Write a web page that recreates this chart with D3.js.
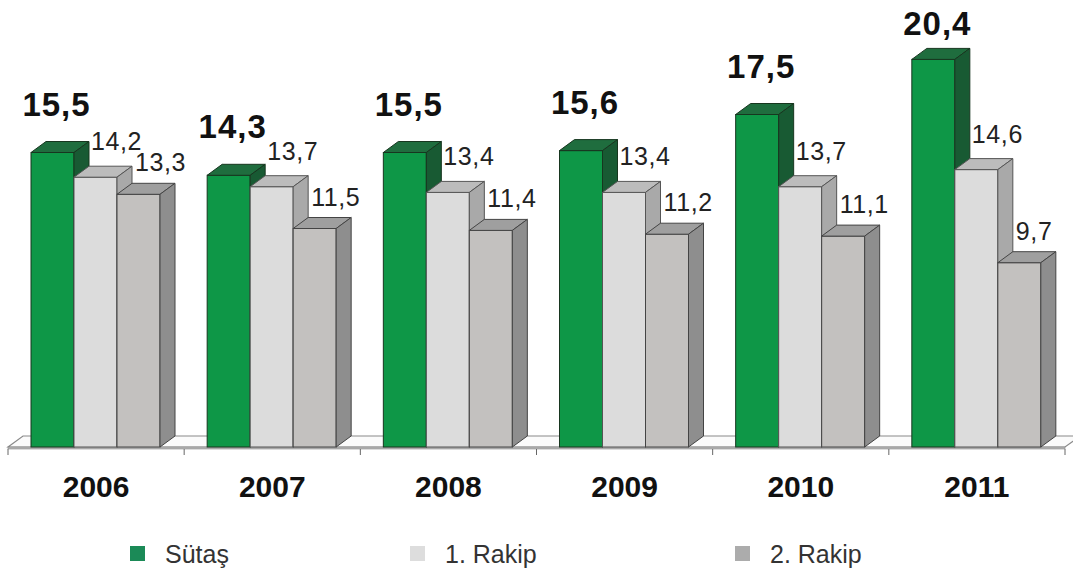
<!DOCTYPE html>
<html>
<head>
<meta charset="utf-8">
<script src="https://cdn.jsdelivr.net/npm/d3@7"></script>
<style>
  html, body { margin: 0; padding: 0; background: #ffffff; }
  svg { display: block; font-family: "Liberation Sans", Arial, sans-serif; }
</style>
</head>
<body>
<svg id="chart" width="1073" height="575"></svg>
<script>
// ---- data ----
const years = ["2006", "2007", "2008", "2009", "2010", "2011"];
const seriesNames = ["Sütaş", "1. Rakip", "2. Rakip"];
const sutas  = [15.5, 14.3, 15.5, 15.6, 17.5, 20.4];
const rakip1 = [14.2, 13.7, 13.4, 13.4, 13.7, 14.6];
const rakip2 = [13.3, 11.5, 11.4, 11.2, 11.1, 9.7];
const valueLabels1 = ["15,5", "14,3", "15,5", "15,6", "17,5", "20,4"];
const valueLabels2 = ["14,2", "13,7", "13,4", "13,4", "13,7", "14,6"];
const valueLabels3 = ["13,3", "11,5", "11,4", "11,2", "11,1", "9,7"];

// ---- styles ----
const styles = [
  { front: "#0e9747", top: "#1f6d3e", side: "#185a33", stroke: "#17361f", legend: "#1b8a57" },
  { front: "#dcdcdc", top: "#bcbcbc", side: "#a9a9a9", stroke: "#555555", legend: "#dddddd" },
  { front: "#c3c1bf", top: "#9f9f9f", side: "#8e8e8e", stroke: "#444444", legend: "#acacac" }
];
const DX = 15, DY = 11;

const svg = d3.select("#chart");

const x0 = d3.scaleBand().domain(years).range([8, 1065]).paddingInner(0).paddingOuter(0);
const x1 = d3.scaleBand().domain(seriesNames).range([23, 152]).padding(0);
const y = d3.scaleLinear().domain([0, 20]).range([447, 67]);

const allSeries = [sutas, rakip1, rakip2];

// ---- floor ----
const fx0 = x0.range()[0], fx1 = x0.range()[1], fy = y(0);
svg.append("path")
  .attr("d", `M${fx0},${fy} L${fx0 + DX},${fy - DY} L${fx1 + DX},${fy - DY} L${fx1},${fy} Z`)
  .attr("fill", "#fbfbfb").attr("stroke", "#8a8a8a").attr("stroke-width", 1.2);
svg.append("rect")
  .attr("x", fx0).attr("y", fy).attr("width", fx1 - fx0).attr("height", 2)
  .attr("fill", "#b5b5b5").attr("stroke", "#8a8a8a").attr("stroke-width", 0.6);

// ticks at band boundaries
const tickXs = years.map(d => x0(d)).concat([fx1]);
svg.append("g").selectAll("line").data(tickXs).join("line")
  .attr("x1", d => d).attr("x2", d => d)
  .attr("y1", fy + 2).attr("y2", fy + 8)
  .attr("stroke", "#666").attr("stroke-width", 1);

// ---- bars ----
const groups = svg.append("g").selectAll("g.grp").data(years).join("g")
  .attr("class", "grp")
  .attr("transform", d => `translate(${x0(d)},0)`);

groups.each(function (yr, i) {
  const g = d3.select(this);
  seriesNames.forEach((s, k) => {
    const v = allSeries[k][i];
    const st = styles[k];
    const bx = x1(s), bw = x1.bandwidth();
    const top = y(v), base = y(0);
    g.append("rect").attr("x", bx).attr("y", top).attr("width", bw).attr("height", base - top)
      .attr("fill", st.front).attr("stroke", st.stroke).attr("stroke-width", 1);
    g.append("path")
      .attr("d", `M${bx},${top} L${bx + DX},${top - DY} L${bx + bw + DX},${top - DY} L${bx + bw},${top} Z`)
      .attr("fill", st.top).attr("stroke", st.stroke).attr("stroke-width", 1).attr("stroke-linejoin", "round");
    g.append("path")
      .attr("d", `M${bx + bw},${top} L${bx + bw + DX},${top - DY} L${bx + bw + DX},${base - DY} L${bx + bw},${base} Z`)
      .attr("fill", st.side).attr("stroke", st.stroke).attr("stroke-width", 1).attr("stroke-linejoin", "round");
  });
});

// ---- value labels ----
groups.each(function (yr, i) {
  const g = d3.select(this);
  const s0 = seriesNames[0];
  g.append("text")
    .attr("x", x1(s0) + x1.bandwidth() / 2 + 4)
    .attr("y", Math.max(y(sutas[i]) - 37, 35))
    .attr("text-anchor", "middle")
    .attr("font-size", 33).attr("font-weight", "bold").attr("letter-spacing", 1)
    .attr("fill", "#111")
    .text(valueLabels1[i]);
  g.append("text")
    .attr("x", x1(seriesNames[1]) + 17)
    .attr("y", y(rakip1[i]) - 27)
    .attr("font-size", 25).attr("letter-spacing", 0.6)
    .attr("fill", "#222")
    .text(valueLabels2[i]);
  g.append("text")
    .attr("x", x1(seriesNames[2]) + 18)
    .attr("y", y(rakip2[i]) - 23)
    .attr("font-size", 25).attr("letter-spacing", 0.6)
    .attr("fill", "#222")
    .text(valueLabels3[i]);
});

// ---- category labels ----
svg.append("g").selectAll("text").data(years).join("text")
  .attr("x", d => x0(d) + x0.bandwidth() / 2)
  .attr("y", 497)
  .attr("text-anchor", "middle")
  .attr("font-size", 30).attr("font-weight", "bold")
  .attr("fill", "#111")
  .text(d => d);

// ---- legend ----
const legendX = [130, 410, 735];
const lg = svg.append("g").selectAll("g").data(seriesNames).join("g")
  .attr("transform", (d, k) => `translate(${legendX[k]},546)`);
lg.append("rect").attr("x", 0).attr("y", 0).attr("width", 15).attr("height", 15)
  .attr("fill", (d, k) => styles[k].legend);
lg.append("text").attr("x", 35).attr("y", 17)
  .attr("font-size", 25).attr("fill", "#333")
  .text(d => d);
</script>
</body>
</html>
